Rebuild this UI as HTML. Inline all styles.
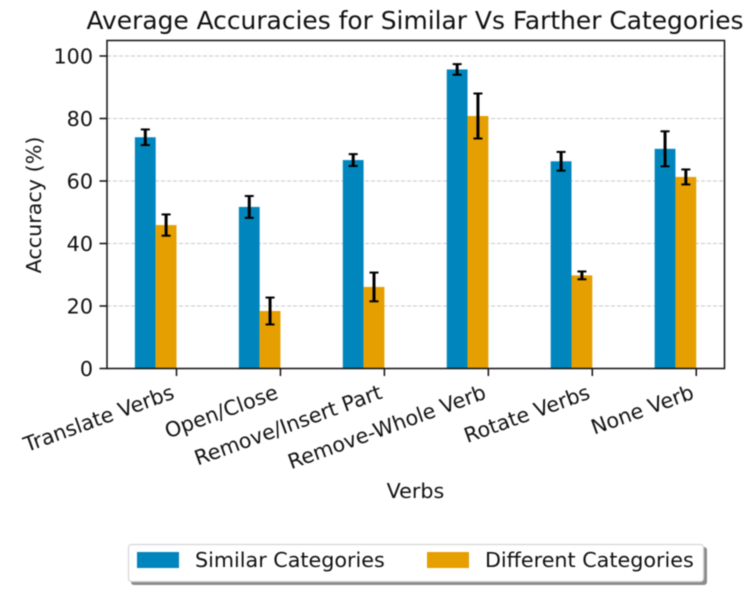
<!DOCTYPE html>
<html>
<head>
<meta charset="utf-8">
<style>
html,body{margin:0;padding:0;background:#fff;}
svg{display:block;filter:blur(0.4px);}
text{font-family:"DejaVu Sans","Liberation Sans",sans-serif;fill:#111;}
</style>
</head>
<body>
<svg id="chart" xmlns="http://www.w3.org/2000/svg" width="747" height="604" viewBox="0 0 747 604">
<rect x="0" y="0" width="747" height="604" fill="#fff"/>
<g id="grid"></g>
<g id="bars"></g>
<g id="errs"></g>
<rect x="107" y="40.5" width="617.5" height="328" fill="none" stroke="#111" stroke-width="1.5"/>
<g id="ticks"></g>
<text x="415" y="29" font-size="24.9" text-anchor="middle">Average Accuracies for Similar Vs Farther Categories</text>
<text transform="translate(41,205) rotate(-90)" font-size="20.7" text-anchor="middle">Accuracy (%)</text>
<text x="415.5" y="498" font-size="20.7" text-anchor="middle">Verbs</text>
<g>
<rect x="131" y="547" width="576" height="38" rx="3" fill="#8c8c8c"/>
<rect x="128.5" y="544.5" width="575" height="37" rx="3" fill="#fff" stroke="#d5d5d5" stroke-width="1.2"/>
<rect x="137" y="552" width="42" height="16" fill="#0086bd"/>
<text x="195" y="567" font-size="20.7">Similar Categories</text>
<rect x="427" y="552" width="42" height="16" fill="#e69f00"/>
<text x="485" y="567" font-size="20.7">Different Categories</text>
</g>
</svg>
<script>
var categories = ["Translate Verbs","Open/Close","Remove/Insert Part","Remove-Whole Verb","Rotate Verbs","None Verb"];
var similarValues = [74, 51.7, 66.7, 95.7, 66.3, 70.3];
var differentValues = [45.9, 18.4, 26.1, 80.8, 29.8, 61.3];
var similarErrors = [2.5, 3.5, 1.9, 1.7, 3, 5.6];
var differentErrors = [3.4, 4.3, 4.6, 7.2, 1.25, 2.4];
var yTickLabels = [0, 20, 40, 60, 80, 100];

var NS = "http://www.w3.org/2000/svg";
function yScale(v){ return 368.5 - v * 3.125; }
function xScale(i){ return 176.5 + i * 103.95; }
var BAR_W = 20.8;
function mk(parent, tag, attrs){
  var el = document.createElementNS(NS, tag);
  for (var k in attrs) el.setAttribute(k, attrs[k]);
  document.getElementById(parent).appendChild(el);
  return el;
}
yTickLabels.forEach(function(t){
  var y = yScale(t);
  if (t > 0 && t <= 100) {
    var g = mk("grid", "line", {x1:107, x2:724.5, y1:y, y2:y, stroke:"#c9c9c9", "stroke-width":1, "stroke-dasharray":"4 2"});
    
    
  }
  var tk = mk("ticks", "line", {x1:99.5, x2:107, y1:y, y2:y, stroke:"#111", "stroke-width":1.5});
  
  
  var lb = mk("ticks", "text", {x:93, y:y + 7.5, "font-size":20.7, "text-anchor":"end"});
  lb.textContent = t;
  
  
});
function errBar(cx, v, e){
  var top = yScale(v + e), bot = yScale(v - e);
  var l = mk("errs", "line", {x1:cx, x2:cx, y1:top, y2:bot, stroke:"#000", "stroke-width":3});
  
  
  [top, bot].forEach(function(y){
    var c = mk("errs", "line", {x1:cx - 4.5, x2:cx + 4.5, y1:y, y2:y, stroke:"#000", "stroke-width":2});
    
    
  });
}
categories.forEach(function(c, i){
  var x = xScale(i);
  var b1 = mk("bars", "rect", {x:x - 2 * BAR_W, y:yScale(similarValues[i]), width:BAR_W, height:similarValues[i] * 3.125, fill:"#0086bd"});
  
  
  var b2 = mk("bars", "rect", {x:x - BAR_W, y:yScale(differentValues[i]), width:BAR_W, height:differentValues[i] * 3.125, fill:"#e69f00"});
  
  
  errBar(x - 1.5 * BAR_W, similarValues[i], similarErrors[i]);
  errBar(x - 0.5 * BAR_W, differentValues[i], differentErrors[i]);
  var tk = mk("ticks", "line", {x1:x, x2:x, y1:368.5, y2:376, stroke:"#111", "stroke-width":1.5});
  
  
  var lb = mk("ticks", "text", {transform:"translate(" + (x - 1) + ",398) rotate(-20)", "font-size":20.7, "text-anchor":"end"});
  lb.textContent = c;
  
  
});
</script>
</body>
</html>
